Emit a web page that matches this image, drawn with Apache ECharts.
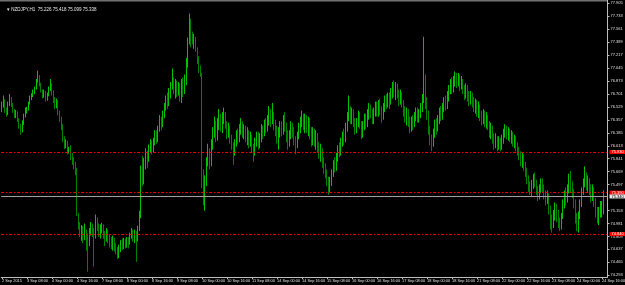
<!DOCTYPE html>
<html><head><meta charset="utf-8">
<script src="https://cdn.jsdelivr.net/npm/echarts@6/dist/echarts.min.js"></script>
<style>html,body{margin:0;padding:0;background:#000}#c{width:625px;height:285px}</style>
</head><body><div id="c"></div>
<script>
const titleText = 'NZDJPY,H1  75.226 75.418 75.099 75.338';
const firstOpen = 76.50;
const closes = [
76.55,76.62,76.50,76.45,76.57,76.64,76.57,76.48,76.41,76.45,76.37,76.27,76.21,76.31,76.41,76.48,
76.50,76.58,76.64,76.68,76.72,76.77,76.88,76.93,76.82,76.74,76.68,76.72,76.64,76.69,76.77,76.81,
76.72,76.64,76.54,76.61,76.45,76.37,76.27,76.10,76.01,76.05,75.94,75.97,75.87,75.81,75.74,75.67,
75.10,74.98,74.85,74.92,74.80,74.88,74.76,74.72,74.85,74.95,74.88,74.80,75.02,74.95,74.86,74.92,
74.96,74.84,74.78,74.88,74.80,74.74,74.70,74.77,74.68,74.62,74.58,74.66,74.72,74.68,74.74,74.70,
74.76,74.72,74.82,74.88,74.80,74.86,74.78,74.90,75.10,75.70,75.55,75.78,75.90,75.85,75.98,76.05,
75.96,76.08,76.18,76.10,76.24,76.36,76.30,76.44,76.52,76.62,76.58,76.70,76.82,76.90,76.75,76.82,
76.72,76.78,76.66,76.84,76.76,76.88,77.10,77.40,77.62,77.48,77.40,77.44,77.32,77.18,77.08,76.98,
75.60,75.40,75.55,75.80,75.92,75.78,76.00,76.20,76.30,76.14,76.28,76.40,76.26,76.36,76.42,76.30,
76.18,76.26,76.12,76.02,75.92,76.06,76.18,76.10,76.24,76.32,76.20,76.26,76.12,76.20,76.06,76.14,
76.00,75.94,76.08,76.16,76.04,76.12,76.24,76.18,76.30,76.24,76.36,76.46,76.34,76.42,76.30,76.22,
76.12,76.20,76.30,76.22,76.36,76.28,76.18,76.06,76.16,76.28,76.20,76.10,76.04,76.16,76.26,76.34,
76.40,76.30,76.38,76.26,76.34,76.22,76.10,76.20,76.08,76.16,76.02,75.92,75.96,75.82,75.72,75.66,
75.56,75.46,75.54,75.66,75.78,75.72,75.86,75.98,75.92,76.06,76.16,76.10,76.26,76.40,76.50,76.38,
76.46,76.34,76.24,76.32,76.42,76.30,76.20,76.28,76.38,76.30,76.42,76.50,76.44,76.36,76.46,76.54,
76.46,76.56,76.50,76.40,76.52,76.62,76.56,76.66,76.60,76.70,76.78,76.72,76.80,76.70,76.62,76.70,
76.58,76.48,76.40,76.46,76.34,76.26,76.36,76.30,76.40,76.46,76.38,76.44,76.52,76.62,76.90,76.60,
76.44,76.24,76.10,76.04,76.18,76.30,76.24,76.36,76.46,76.40,76.52,76.60,76.54,76.66,76.76,76.84,
76.78,76.88,76.94,76.86,76.92,76.82,76.88,76.76,76.70,76.78,76.68,76.62,76.70,76.60,76.52,76.58,
76.48,76.54,76.42,76.36,76.44,76.34,76.40,76.30,76.20,76.26,76.14,76.06,76.12,76.02,76.08,76.00,
76.10,76.18,76.24,76.16,76.22,76.12,76.18,76.06,76.12,76.02,75.96,75.90,75.82,75.88,75.76,75.68,
75.58,75.50,75.42,75.50,75.58,75.52,75.44,75.36,75.44,75.52,75.46,75.38,75.30,75.36,75.20,75.04,
74.98,75.10,75.20,75.12,75.02,74.96,75.08,75.24,75.36,75.30,75.44,75.56,75.48,75.40,75.26,75.10,
74.96,75.08,75.24,75.40,75.52,75.60,75.50,75.56,75.44,75.36,75.44,75.28,75.16,75.06,75.14,75.22,75.23,75.34
];
const highs = [
76.60,76.68,76.63,76.52,76.60,76.70,76.66,76.58,76.50,76.49,76.47,76.38,76.30,76.35,76.44,76.52,
76.53,76.60,76.68,76.71,76.76,76.80,76.90,77.01,76.95,76.85,76.76,76.76,76.74,76.72,76.80,76.90,
76.84,76.75,76.66,76.64,76.62,76.48,76.40,76.30,76.14,76.10,76.08,76.00,76.02,75.92,75.86,75.80,
75.72,75.12,75.00,74.96,74.95,74.98,74.90,74.85,74.92,75.00,74.98,74.92,75.10,75.06,74.98,74.97,
74.99,74.97,74.88,74.92,74.90,74.84,74.80,74.82,74.79,74.72,74.67,74.70,74.76,74.78,74.79,74.78,
74.80,74.80,74.86,74.92,74.90,74.90,74.88,74.95,75.15,75.75,75.88,75.85,75.98,75.95,76.03,76.10,
76.08,76.12,76.22,76.22,76.28,76.42,76.40,76.48,76.58,76.68,76.72,76.78,76.86,77.04,76.92,76.90,
76.88,76.86,76.84,76.90,76.92,76.96,77.18,77.45,77.77,77.70,77.53,77.50,77.46,77.30,77.20,77.02,
76.98,75.70,75.62,75.86,76.04,75.98,76.10,76.26,76.40,76.34,76.38,76.50,76.44,76.46,76.52,76.46,
76.34,76.32,76.28,76.16,76.06,76.10,76.22,76.24,76.30,76.38,76.34,76.30,76.28,76.26,76.22,76.20,
76.16,76.04,76.12,76.20,76.20,76.18,76.30,76.28,76.36,76.38,76.42,76.54,76.50,76.58,76.46,76.36,
76.28,76.26,76.34,76.34,76.42,76.46,76.32,76.22,76.22,76.34,76.32,76.26,76.14,76.20,76.32,76.40,
76.48,76.44,76.44,76.42,76.40,76.38,76.26,76.26,76.24,76.22,76.18,76.06,76.04,75.98,75.86,75.78,
75.70,75.60,75.60,75.70,75.82,75.86,75.92,76.02,76.06,76.12,76.20,76.24,76.32,76.46,76.68,76.54,
76.52,76.50,76.38,76.38,76.48,76.46,76.34,76.34,76.44,76.44,76.50,76.58,76.56,76.50,76.52,76.60,
76.60,76.62,76.64,76.54,76.58,76.68,76.70,76.72,76.72,76.78,76.86,76.88,76.86,76.84,76.76,76.76,
76.72,76.62,76.54,76.52,76.50,76.40,76.40,76.42,76.46,76.52,76.52,76.50,76.58,76.70,77.46,76.96,
76.66,76.48,76.28,76.16,76.24,76.36,76.38,76.42,76.52,76.54,76.58,76.66,76.68,76.74,76.82,76.90,
76.92,76.94,77.00,76.98,76.98,76.96,76.94,76.90,76.82,76.84,76.82,76.74,76.74,76.72,76.66,76.64,
76.62,76.60,76.56,76.48,76.50,76.48,76.46,76.42,76.34,76.32,76.28,76.18,76.18,76.14,76.14,76.12,
76.16,76.24,76.30,76.28,76.26,76.24,76.22,76.20,76.16,76.14,76.06,76.00,75.94,75.92,75.90,75.80,
75.72,75.62,75.54,75.56,75.64,75.66,75.56,75.48,75.50,75.58,75.58,75.50,75.42,75.42,75.38,75.22,
75.10,75.16,75.26,75.24,75.16,75.06,75.12,75.30,75.42,75.46,75.50,75.64,75.68,75.54,75.44,75.30,
75.12,75.14,75.30,75.46,75.58,75.74,75.66,75.62,75.58,75.50,75.50,75.46,75.32,75.20,75.20,75.28,75.28,75.42
];
const lows = [
76.46,76.52,76.45,76.40,76.42,76.54,76.53,76.45,76.38,76.38,76.33,76.24,76.16,76.19,76.29,76.39,
76.44,76.48,76.56,76.62,76.66,76.70,76.76,76.85,76.80,76.72,76.64,76.65,76.60,76.61,76.67,76.74,
76.68,76.58,76.50,76.51,76.42,76.33,76.22,76.06,75.97,75.98,75.90,75.91,75.82,75.76,75.70,75.62,
75.08,74.90,74.80,74.75,74.72,74.76,74.62,74.34,74.68,74.82,74.80,74.41,74.78,74.88,74.80,74.78,
74.85,74.78,74.68,74.74,74.72,74.66,74.64,74.62,74.61,74.57,74.51,74.52,74.60,74.63,74.64,74.65,
74.66,74.65,74.70,74.78,74.74,74.72,74.47,74.74,74.88,75.05,75.48,75.50,75.70,75.72,75.80,75.92,
75.90,75.92,76.02,76.04,76.06,76.20,76.22,76.26,76.38,76.48,76.50,76.54,76.64,76.76,76.70,76.64,
76.66,76.68,76.60,76.58,76.66,76.70,76.82,77.05,77.36,77.32,77.36,77.30,77.26,77.10,76.98,76.93,
75.45,75.22,75.15,75.48,75.74,75.70,75.74,75.96,76.12,76.06,76.08,76.22,76.20,76.18,76.30,76.24,
76.10,76.12,76.04,75.96,75.76,75.88,76.00,76.04,76.06,76.16,76.12,76.10,76.06,76.02,75.98,76.00,
75.92,75.80,75.88,76.00,75.96,75.98,76.06,76.10,76.14,76.18,76.20,76.28,76.26,76.30,76.22,76.14,
76.04,75.96,76.12,76.14,76.16,76.20,76.06,75.96,76.00,76.10,76.12,76.02,75.90,75.98,76.10,76.18,
76.26,76.22,76.18,76.18,76.14,76.10,76.00,76.02,76.00,75.96,75.92,75.84,75.80,75.72,75.64,75.58,
75.48,75.36,75.40,75.48,75.60,75.66,75.68,75.80,75.86,75.88,76.00,76.02,76.06,76.20,76.34,76.30,
76.30,76.26,76.16,76.18,76.26,76.24,76.10,76.12,76.22,76.24,76.26,76.36,76.38,76.30,76.30,76.40,
76.40,76.40,76.42,76.32,76.36,76.46,76.50,76.52,76.50,76.56,76.64,76.66,76.62,76.64,76.54,76.56,
76.52,76.40,76.32,76.28,76.26,76.18,76.20,76.22,76.26,76.34,76.32,76.32,76.38,76.46,76.58,76.50,
76.36,76.16,76.02,75.94,76.00,76.12,76.16,76.20,76.30,76.34,76.36,76.46,76.48,76.50,76.60,76.70,
76.70,76.72,76.80,76.78,76.80,76.74,76.76,76.70,76.62,76.64,76.60,76.54,76.56,76.52,76.46,76.44,
76.40,76.38,76.34,76.28,76.30,76.26,76.24,76.22,76.12,76.10,76.04,75.96,75.98,75.94,75.96,75.94,
75.96,76.04,76.12,76.10,76.08,76.06,76.04,76.00,75.98,75.94,75.88,75.82,75.74,75.72,75.68,75.60,
75.50,75.40,75.36,75.34,75.44,75.46,75.36,75.28,75.30,75.38,75.40,75.30,75.22,75.24,75.10,74.90,
74.86,74.92,75.02,75.00,74.92,74.88,74.90,75.04,75.18,75.22,75.26,75.38,75.40,75.32,75.18,74.98,
74.88,74.86,75.04,75.20,75.36,75.46,75.42,75.40,75.36,75.26,75.28,75.20,75.06,74.98,74.96,75.06,75.06,75.10
];
const yTicks = [77.905,77.733,77.561,77.389,77.217,77.045,76.873,76.701,76.529,76.357,76.185,76.013,75.841,75.669,75.497,75.153,74.981,74.809,74.637,74.465,74.293];
const levelLines = [75.930, 75.386, 74.841];
const bidPrice = 75.338;
const yMin = 74.270, yMax = 77.949;

const months = ['Jan','Feb','Mar','Apr','May','Jun','Jul','Aug','Sep','Oct','Nov','Dec'];
const pad = n => (n < 10 ? '0' : '') + n;
const cats = [];
let t = Date.UTC(2015, 8, 2, 16);
while (cats.length < closes.length + 2) {
  const d = new Date(t); const wd = d.getUTCDay();
  if (wd !== 0 && wd !== 6) cats.push(d);
  t += 3600000;
}
const catLabels = cats.map((d, i) => i === 0
  ? d.getUTCDate() + ' ' + months[d.getUTCMonth()] + ' ' + d.getUTCFullYear()
  : d.getUTCDate() + ' ' + months[d.getUTCMonth()] + ' ' + pad(d.getUTCHours()) + ':' + pad(d.getUTCMinutes()));
const ohlc = closes.map((c, i) => {
  const o = i ? closes[i - 1] : firstOpen;
  return [o, c, Math.min(lows[i], o, c), Math.max(highs[i], o, c)];
});

const font = 'Liberation Sans';
const chart = echarts.init(document.getElementById('c'), null, {renderer: 'canvas'});
const redLabel = {show: true, position: 'end', distance: 2, formatter: p => p.value.toFixed(3),
  backgroundColor: '#ff0000', color: '#fff', fontSize: 4, fontFamily: font, padding: [0, 2]};
chart.setOption({
  animation: false,
  backgroundColor: '#000',
  title: {text: '\u25BE ' + titleText, left: 2, top: 2,
    textStyle: {color: '#e8e8e8', fontSize: 4.5, fontWeight: 'normal', fontFamily: font}},
  graphic: [{type: 'rect', left: 0, top: 0, shape: {width: 608, height: 1.5}, style: {fill: '#707070'}, silent: true}],
  grid: {left: 1.2, right: 17.5, top: 0, bottom: 8, show: false, outerBoundsMode: 'none'},
  xAxis: {
    type: 'category', data: catLabels, boundaryGap: true,
    axisLine: {show: true, lineStyle: {color: '#bdbdbd', width: 1}},
    axisTick: {show: true, interval: i => i % 16 === 0, alignWithLabel: true, length: 2, lineStyle: {color: '#bdbdbd'}},
    axisLabel: {interval: i => i % 16 === 0, align: 'left', color: '#e0e0e0', fontSize: 3.9, fontFamily: font, margin: 2, hideOverlap: false},
    splitLine: {show: false}
  },
  yAxis: {
    type: 'value', position: 'right', min: yMin, max: yMax, scale: true,
    splitLine: {show: false},
    axisLine: {show: true, lineStyle: {color: '#bdbdbd', width: 1}},
    axisTick: {show: true, customValues: yTicks, length: 2, lineStyle: {color: '#bdbdbd'}},
    axisLabel: {customValues: yTicks, formatter: v => v.toFixed(3), color: '#e0e0e0', fontSize: 4, fontFamily: font, margin: 3}
  },
  series: [{
    type: 'candlestick', data: ohlc, barWidth: 0.8,
    itemStyle: {color: '#8cff8c', color0: '#006400', borderColor: '#00d800', borderColor0: '#009000', borderWidth: 0.9},
    markLine: {
      silent: true, symbol: ['none', 'none'], animation: false,
      data: levelLines.map(v => ({yAxis: v, lineStyle: {color: '#ff0000', type: [3, 2, 1, 2], width: 1}, label: redLabel}))
        .concat([{yAxis: bidPrice, lineStyle: {color: '#a0a0a0', type: 'solid', width: 1},
          label: {show: true, position: 'end', distance: 2, formatter: p => p.value.toFixed(3),
            backgroundColor: '#e6e6e6', color: '#000', fontSize: 4, fontFamily: font, padding: [0, 2]}}])
    }
  }]
});
</script></body></html>
